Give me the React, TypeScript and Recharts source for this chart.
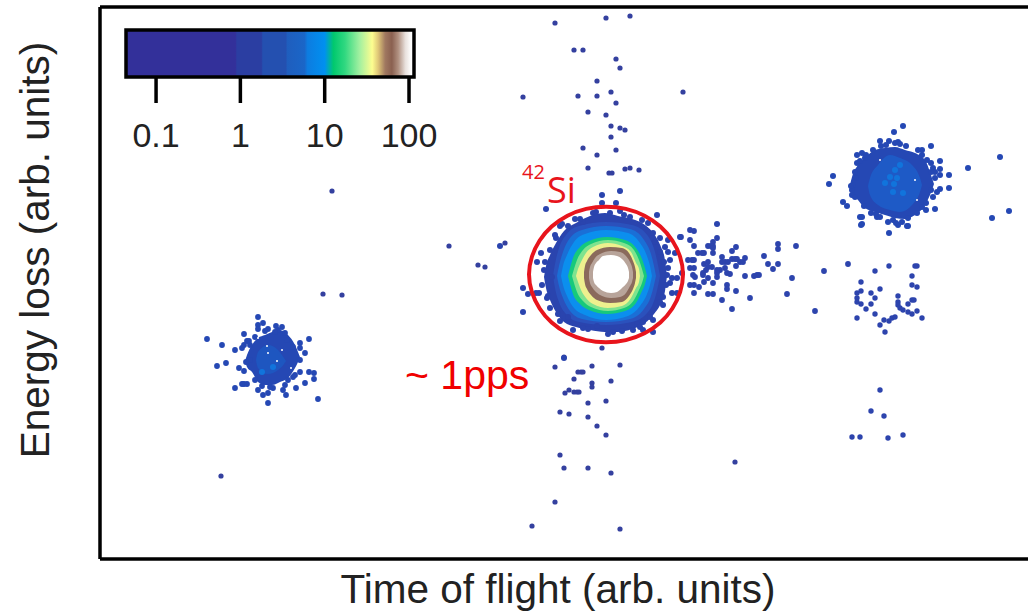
import { Area, ComposedChart, Line, ReferenceArea, ReferenceDot, Scatter, XAxis, YAxis } from 'recharts';

type Dot = [number, number];
type Band = [number, number, number];

// axes run in the reading units of the plot (both arbitrary)
const xDomain = [100, 1028];
const yDomain = [7, 559];

const upperPlume: Dot[] = [
  [630, 16], [606, 18], [555, 23], [574, 50], [583, 50], [616, 59], [620, 68], [597, 81], [523, 97], [578, 96],
  [597, 96], [611, 92], [616, 103], [588, 112], [606, 115], [611, 126], [620, 128], [625, 130], [611, 137],
  [583, 148], [616, 150], [597, 155], [588, 168], [609, 173], [612, 173], [625, 169], [630, 168], [639, 170],
  [683, 92], [332, 191], [449, 246], [478, 265], [485, 267], [505, 243], [323, 294], [342, 295],
];
const lowerPlume: Dot[] = [
  [602, 348], [564, 357], [555, 367], [592, 366], [620, 365], [578, 372], [581, 372], [583, 372], [574, 379],
  [611, 381], [592, 383], [592, 387], [569, 390], [565, 393], [574, 392], [577, 392], [579, 392], [588, 403],
  [606, 401], [560, 412], [569, 414], [588, 417], [597, 426], [606, 435], [560, 455], [564, 468], [588, 468],
  [611, 473], [555, 502], [532, 526], [620, 529], [735, 462], [221, 476],
];
const tailDots: Dot[] = [
  [690, 230], [694, 231], [681, 237], [690, 240], [694, 246], [713, 242], [717, 238], [708, 246], [711, 246],
  [713, 246], [713, 248], [713, 253], [698, 253], [702, 253], [704, 253], [732, 251], [736, 247], [722, 257],
  [688, 260], [692, 260], [694, 260], [708, 262], [704, 264], [722, 262], [725, 262], [728, 262], [732, 259],
  [735, 259], [737, 259], [740, 262], [743, 262], [745, 258], [736, 266], [764, 256], [778, 244], [778, 249],
  [796, 246], [768, 264], [778, 264], [773, 269], [690, 268], [694, 268], [708, 267], [712, 267], [706, 270],
  [703, 273], [717, 270], [720, 270], [725, 268], [727, 273], [730, 274], [717, 273], [717, 277], [693, 275],
  [695, 277], [703, 275], [708, 278], [745, 276], [754, 276], [757, 275], [759, 275], [792, 278], [824, 271],
  [848, 264], [690, 285], [694, 285], [699, 287], [713, 283], [704, 282], [727, 285], [727, 289], [694, 293],
  [708, 294], [713, 294], [736, 291], [750, 298], [722, 300], [732, 309], [787, 294], [815, 311],
];
const lowerRightDots: Dot[] = [
  [875, 271], [889, 266], [917, 266], [915, 266], [912, 276], [861, 282], [912, 285], [917, 287], [880, 289],
  [861, 291], [857, 293], [871, 293], [875, 298], [857, 298], [857, 302], [861, 304], [871, 304], [866, 309],
  [898, 296], [898, 302], [898, 305], [900, 308], [903, 310], [908, 312], [908, 304], [912, 300], [914, 300],
  [912, 314], [917, 311], [922, 318], [875, 314], [857, 318], [884, 320], [892, 318], [895, 317], [889, 321],
  [880, 325], [885, 332], [880, 390], [871, 411], [884, 416], [852, 437], [860, 437], [888, 438], [903, 435],
];
const centerEdge: Dot[] = [
  [602, 195], [620, 191], [602, 203], [616, 203], [546, 209], [620, 211], [657, 215], [717, 224], [653, 233],
  [560, 226], [583, 222], [680, 237], [675, 253], [541, 253], [537, 262], [668, 240], [655, 242], [660, 252],
  [670, 260], [668, 268], [672, 278], [677, 278], [670, 283], [682, 273], [542, 285], [552, 277], [523, 288],
  [528, 294], [539, 293], [536, 293], [523, 312], [550, 308], [663, 297], [672, 293], [677, 293], [653, 320],
  [573, 330], [583, 328], [564, 358], [633, 330], [643, 330], [653, 332], [613, 332], [597, 326], [643, 322],
  [637, 324], [500, 246], [568, 317], [555, 235], [562, 224], [575, 219], [593, 213], [630, 217], [642, 220],
  [665, 247], [664, 262], [666, 285], [660, 302], [650, 317], [558, 314], [548, 296], [544, 270],
  [550, 250], [556, 238], [568, 226], [580, 219], [596, 212], [610, 213], [624, 215], [648, 223], [660, 238],
  [668, 252], [667, 275], [663, 305], [640, 327], [622, 331], [608, 334], [588, 329], [560, 321], [547, 298], [545, 262],
];
const rightEdge: Dot[] = [
  [903, 126], [894, 132], [880, 141], [889, 141], [895, 143], [898, 142], [931, 146], [857, 155], [862, 153],
  [857, 163], [865, 158], [922, 150], [922, 155], [940, 161], [931, 163], [940, 169], [935, 172], [931, 172],
  [949, 175], [940, 175], [968, 168], [1000, 157], [833, 176], [829, 184], [949, 188], [940, 189], [937, 192],
  [933, 197], [853, 185], [852, 190], [852, 195], [843, 202], [847, 206], [926, 203], [935, 209], [926, 210],
  [917, 213], [871, 213], [860, 217], [862, 217], [862, 224], [877, 217], [880, 217], [889, 233], [898, 225],
  [907, 226], [893, 220], [896, 223], [992, 218], [1009, 211], [861, 225], [908, 226],
  [873, 150], [881, 146], [886, 145], [900, 144], [906, 146], [918, 150], [927, 160], [933, 168], [935, 178],
  [931, 190], [922, 207], [908, 218], [902, 222], [888, 222], [876, 214], [864, 206], [855, 197], [851, 186],
  [855, 172], [860, 161], [866, 155], [856, 178],
];
const leftEdge: Dot[] = [
  [258, 317], [263, 323], [258, 325], [258, 329], [268, 329], [282, 327], [278, 330], [275, 332], [244, 334],
  [207, 339], [222, 345], [235, 350], [242, 348], [247, 341], [249, 341], [244, 345], [309, 339], [300, 343],
  [300, 348], [305, 353], [217, 366], [226, 363], [239, 368], [244, 371], [244, 384], [242, 384], [247, 384],
  [235, 388], [258, 390], [263, 395], [268, 393], [273, 388], [268, 403], [286, 395], [296, 388], [305, 383],
  [309, 372], [314, 373], [314, 379], [318, 399], [300, 360], [300, 372], [293, 377], [288, 380], [285, 385],
  [250, 360], [255, 380], [287, 340], [293, 347], [295, 375], [283, 390], [270, 387], [250, 345], [255, 337],
  [265, 331], [276, 326], [285, 333], [246, 362], [262, 386],
];

// contour bands: x, upper edge, lower edge, outermost first
const centerBands: { color: string; band: Band[] }[] = [
  { color: '#2a44ae', band: [[544, 277, 277], [546, 266, 288], [550, 255, 300], [556, 243, 312], [564, 231, 322], [576, 223, 327], [590, 216, 330], [605, 213, 332], [618, 216, 332], [632, 219, 329], [645, 225, 323], [654, 234, 314], [661, 247, 303], [665, 260, 291], [667, 276, 276]] },
  { color: '#2b51bc', band: [[553, 276, 276], [555, 264, 288], [559, 248, 302], [566, 235, 314], [579, 226, 322], [606, 222, 325], [632, 225, 322], [648, 236, 312], [655, 252, 298], [658, 265, 286], [660, 276, 276]] },
  { color: '#1a6fd6', band: [[557, 276, 276], [559, 266, 286], [563, 252, 298], [570, 238, 311], [582, 230, 319], [606, 226, 322], [630, 229, 319], [644, 240, 309], [651, 254, 296], [654, 266, 285], [656, 276, 276]] },
  { color: '#0b8fee', band: [[561, 276, 276], [563, 266, 285], [567, 255, 296], [574, 242, 308], [585, 234, 315], [606, 230, 320], [628, 233, 316], [640, 243, 306], [647, 256, 294], [650, 266, 285], [652, 276, 276]] },
  { color: '#16c97c', band: [[568, 276, 276], [570, 268, 284], [573, 258, 294], [580, 247, 304], [589, 241, 310], [607, 237, 314], [625, 240, 311], [636, 248, 303], [642, 259, 291], [645, 268, 284], [647, 276, 276]] },
  { color: '#7fe38f', band: [[572, 276, 276], [574, 269, 283], [577, 260, 292], [583, 250, 301], [591, 244, 307], [608, 240, 311], [624, 243, 308], [634, 250, 300], [639, 260, 290], [642, 269, 283], [644, 276, 276]] },
  { color: '#eef08e', band: [[576, 276, 276], [578, 269, 282], [581, 262, 290], [586, 253, 298], [593, 247, 304], [608, 243, 308], [622, 246, 306], [631, 252, 298], [636, 263, 288], [639, 269, 282], [640, 276, 276]] },
  { color: '#8a6a5c', band: [[584, 272, 278], [585, 266, 284], [587, 261, 289], [591, 255, 295], [597, 250, 300], [610, 247, 303], [622, 248, 302], [629, 253, 296], [633, 261, 289], [635, 267, 283], [636, 272, 278]] },
  { color: '#b8a49a', band: [[589, 272, 278], [590, 267, 283], [592, 263, 287], [595, 258, 291], [600, 254, 295], [611, 251, 298], [620, 252, 297], [626, 256, 293], [630, 262, 286], [632, 267, 282], [633, 272, 278]] },
  { color: '#ffffff', band: [[593, 272, 278], [594, 267, 282], [596, 263, 285], [599, 260, 288], [603, 256, 291], [611, 255, 293], [617, 256, 292], [622, 259, 288], [626, 264, 284], [628, 268, 281], [629, 272, 278]] },
];
const rightBands: { color: string; band: Band[] }[] = [
  { color: '#2548b4', band: [[850, 185, 185], [852, 177, 192], [858, 165, 200], [865, 158, 208], [875, 150, 212], [885, 148, 215], [895, 147, 218], [905, 150, 219], [915, 153, 215], [925, 160, 205], [930, 172, 195], [932, 178, 190], [934, 184, 184]] },
  { color: '#1e5ac6', band: [[868, 186, 186], [870, 178, 195], [878, 165, 205], [890, 155, 210], [900, 158, 212], [912, 165, 205], [920, 178, 192], [922, 185, 185]] },
];
const leftBands: { color: string; band: Band[] }[] = [
  { color: '#2548b4', band: [[245, 361, 361], [247, 355, 367], [252, 345, 372], [258, 338, 382], [265, 335, 385], [272, 332, 385], [280, 330, 382], [288, 335, 378], [295, 345, 368], [298, 352, 362], [300, 357, 357]] },
  { color: '#1e56c0', band: [[256, 360, 360], [258, 352, 368], [268, 345, 374], [278, 350, 370], [284, 358, 364], [286, 361, 361]] },
];
const brightDots: Dot[] = [
  [890, 177], [894, 184], [893, 192], [903, 193], [900, 165], [885, 183], [897, 178], [895, 170], [262, 372], [273, 367],
];
const gapDots: Dot[] = [[268, 353], [277, 361], [267, 346], [282, 350], [291, 368], [258, 338], [880, 160], [915, 180], [917, 200]];

const gateOutline: Dot[] = [
  [684, 274], [681, 292], [673, 309], [661, 323], [645, 334], [626, 341], [606, 343], [586, 341], [567, 334], [551, 323],
  [539, 309], [531, 292], [528, 274], [531, 257], [539, 240], [551, 226], [567, 215], [586, 208], [606, 206], [626, 208],
  [645, 215], [661, 226], [673, 240], [681, 257],
];

const colorbarRange = [0.044, 114.6];
const colorbarTicks = [0.1, 1, 10, 100];
const colorbarStops: [string, string][] = [
  ['0%', '#33309a'], ['38%', '#33309a'], ['38.5%', '#2b3ea2'], ['47%', '#2b3ea2'], ['47.5%', '#2450b0'], ['55.5%', '#2450b0'],
  ['56%', '#1f5ebe'], ['62%', '#1a66c8'], ['63%', '#0d7ce0'], ['69%', '#0090f0'], ['72%', '#00c86e'], ['76%', '#30d880'],
  ['81%', '#a0f0a0'], ['85.5%', '#fdfd90'], ['87.5%', '#e0c878'], ['90%', '#a07860'], ['92.3%', '#8a6050'], ['94.5%', '#b09080'],
  ['97%', '#e8e0dc'], ['99%', '#ffffff'],
];

const font = '"Liberation Sans", Arial, sans-serif';
const toDots = (list: Dot[]) => list.map(([x, y]) => ({ x, y }));
const toBand = (list: Band[]) => list.map(([x, a, b]) => ({ x, range: [a, b] }));

const dotShape = (r: number, fill: string) => (p: any) => <circle cx={p.cx} cy={p.cy} r={r} fill={fill} />;

function bandAreas(name: string, bands: { color: string; band: Band[] }[]) {
  return bands.map((b, i) => (
    <Area
      key={`${name}-${i}`}
      data={toBand(b.band)}
      dataKey="range"
      type="monotone"
      fill={b.color}
      fillOpacity={1}
      stroke="none"
      dot={false}
      activeDot={false}
      isAnimationActive={false}
    />
  ));
}

function Colorbar() {
  return (
    <div style={{ position: 'absolute', left: 100, top: 20 }}>
      <ComposedChart width={350} height={135} margin={{ left: 26, right: 36, top: 10, bottom: 0 }}>
        <defs>
          <linearGradient id="colorbarFill" x1="0" y1="0" x2="1" y2="0">
            {colorbarStops.map(([offset, color]) => (
              <stop key={offset} offset={offset} stopColor={color} />
            ))}
          </linearGradient>
        </defs>
        <XAxis
          type="number"
          dataKey="v"
          scale="log"
          domain={colorbarRange}
          ticks={colorbarTicks}
          interval={0}
          height={78}
          axisLine={false}
          tickSize={26}
          tickMargin={20}
          tickLine={{ stroke: '#000', strokeWidth: 3.5 }}
          tick={{ fill: '#222', fontSize: 34, fontFamily: font }}
          allowDataOverflow
        />
        <YAxis type="number" domain={[0, 1]} hide />
        <Area
          data={colorbarRange.map((v) => ({ v, level: 1 }))}
          dataKey="level"
          fill="url(#colorbarFill)"
          fillOpacity={1}
          stroke="none"
          type="linear"
          isAnimationActive={false}
        />
        <ReferenceArea
          x1={colorbarRange[0]}
          x2={colorbarRange[1]}
          y1={0}
          y2={1}
          fill="none"
          stroke="#000"
          strokeWidth={3.5}
        />
      </ComposedChart>
    </div>
  );
}

export default function App() {
  return (
    <div style={{ position: 'absolute', left: 0, top: 0, width: 1028, height: 612, overflow: 'hidden', background: '#fff' }}>
      <ComposedChart width={1028} height={612} margin={{ left: 99, right: 0, top: 6, bottom: 52 }}>
        <XAxis
          type="number"
          dataKey="x"
          domain={xDomain}
          height={1}
          tick={false}
          tickLine={false}
          axisLine={{ stroke: '#000', strokeWidth: 3.5 }}
          allowDataOverflow
          label={{ value: 'Time of flight (arb. units)', position: 'bottom', offset: 14, dx: -6, fontSize: 40.5, fill: '#222', fontFamily: font }}
        />
        <XAxis xAxisId="top" orientation="top" type="number" domain={xDomain} height={1} tick={false} tickLine={false} axisLine={{ stroke: '#000', strokeWidth: 3.5 }} />
        <YAxis
          type="number"
          dataKey="y"
          domain={yDomain}
          reversed
          width={1}
          tick={false}
          tickLine={false}
          axisLine={{ stroke: '#000', strokeWidth: 3.5 }}
          allowDataOverflow
          label={{ value: 'Energy loss (arb. units)', angle: -90, position: 'left', offset: 64, dy: -33, textAnchor: 'middle', fontSize: 40.5, fill: '#222', fontFamily: font }}
        />
        {bandAreas('left', leftBands)}
        {bandAreas('right', rightBands)}
        {bandAreas('center', centerBands)}
        <Scatter data={toDots(upperPlume)} shape={dotShape(2.6, '#34409f')} isAnimationActive={false} />
        <Scatter data={toDots(lowerPlume)} shape={dotShape(2.6, '#34409f')} isAnimationActive={false} />
        <Scatter data={toDots(tailDots)} shape={dotShape(2.9, '#2d44ad')} isAnimationActive={false} />
        <Scatter data={toDots(lowerRightDots)} shape={dotShape(2.7, '#2d44ad')} isAnimationActive={false} />
        <Scatter data={toDots(centerEdge)} shape={dotShape(3, '#2a44ae')} isAnimationActive={false} />
        <Scatter data={toDots(rightEdge)} shape={dotShape(3, '#2548b4')} isAnimationActive={false} />
        <Scatter data={toDots(leftEdge)} shape={dotShape(2.9, '#2548b4')} isAnimationActive={false} />
        <Scatter data={toDots(brightDots)} shape={dotShape(3, '#1174dc')} isAnimationActive={false} />
        <Scatter data={toDots(gapDots)} shape={dotShape(1, '#ffffff')} isAnimationActive={false} />
        <Line
          data={toDots(gateOutline)}
          dataKey="y"
          type="basisClosed"
          stroke="#e8141c"
          strokeWidth={4}
          dot={false}
          activeDot={false}
          isAnimationActive={false}
          zIndex={700}
        />
        <ReferenceDot x={405} y={374} r={0} fill="none" stroke="none" label={{ value: '~ 1pps', position: 'right', offset: 0, fontSize: 41, fill: '#f00000', fontFamily: font }} />
        <ReferenceDot x={522} y={172} r={0} fill="none" stroke="none" label={{ value: '42', position: 'right', offset: 0, fontSize: 20, fill: '#e8141c', fontFamily: '"Open Sans", sans-serif' }} />
        <ReferenceDot x={547} y={190} r={0} fill="none" stroke="none" label={{ value: 'Si', position: 'right', offset: 0, fontSize: 36, fill: '#e8141c', fontFamily: '"Open Sans", sans-serif' }} />
      </ComposedChart>
      <Colorbar />
    </div>
  );
}
